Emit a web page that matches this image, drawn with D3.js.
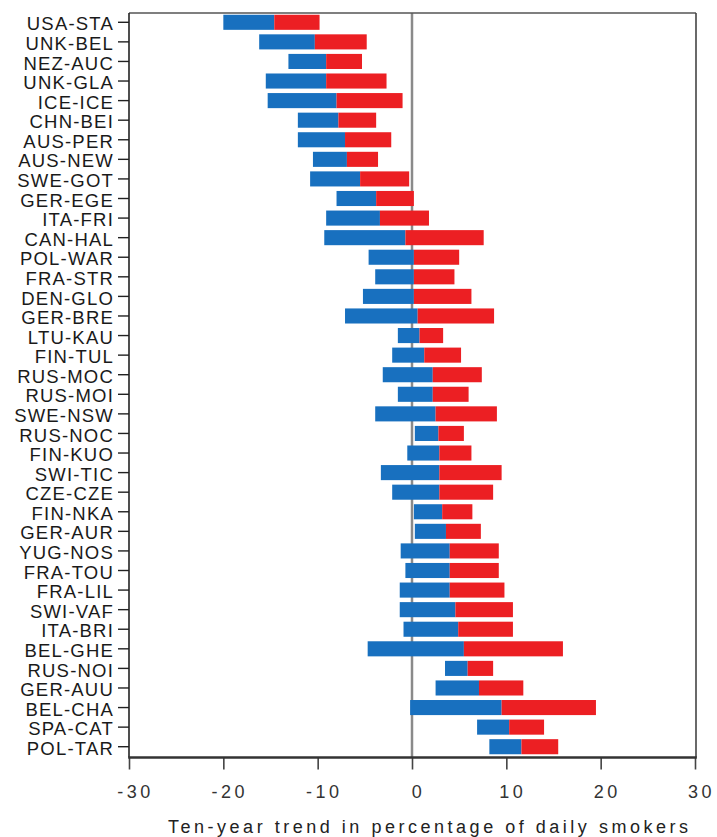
<!DOCTYPE html>
<html>
<head>
<meta charset="utf-8">
<script src="https://cdn.jsdelivr.net/npm/d3@7"></script>
<style>
  html, body { margin: 0; padding: 0; background: #ffffff; }
  svg { display: block; font-family: "Liberation Sans", Arial, Helvetica, sans-serif; }
</style>
</head>
<body>
<svg id="chart" width="717" height="837"></svg>
<script>
// Study populations (top to bottom)
const sites = ["USA-STA","UNK-BEL","NEZ-AUC","UNK-GLA","ICE-ICE","CHN-BEI","AUS-PER","AUS-NEW",
  "SWE-GOT","GER-EGE","ITA-FRI","CAN-HAL","POL-WAR","FRA-STR","DEN-GLO","GER-BRE","LTU-KAU",
  "FIN-TUL","RUS-MOC","RUS-MOI","SWE-NSW","RUS-NOC","FIN-KUO","SWI-TIC","CZE-CZE","FIN-NKA",
  "GER-AUR","YUG-NOS","FRA-TOU","FRA-LIL","SWI-VAF","ITA-BRI","BEL-GHE","RUS-NOI","GER-AUU",
  "BEL-CHA","SPA-CAT","POL-TAR"];

// Lower confidence limit of the ten-year trend
const lower = [-20.0,-16.2,-13.1,-15.5,-15.3,-12.1,-12.1,-10.5,-10.8,-8.0,-9.1,-9.3,-4.6,-3.9,
  -5.2,-7.1,-1.5,-2.1,-3.1,-1.5,-3.9,0.3,-0.5,-3.3,-2.1,0.2,0.3,-1.2,-0.7,-1.3,-1.3,-0.9,-4.7,
  3.5,2.5,-0.2,6.9,8.2];

// Estimated ten-year trend
const trend = [-14.6,-10.3,-9.1,-9.1,-8.0,-7.8,-7.1,-6.9,-5.5,-3.8,-3.4,-0.7,0.2,0.2,0.2,0.6,
  0.8,1.3,2.2,2.2,2.5,2.8,2.9,2.9,2.9,3.2,3.6,4.0,4.0,4.0,4.6,4.9,5.5,5.9,7.1,9.5,10.3,11.6];

// Upper confidence limit of the ten-year trend
const upper = [-9.8,-4.8,-5.3,-2.7,-1.0,-3.8,-2.2,-3.6,-0.3,0.2,1.8,7.6,5.0,4.5,6.3,8.7,3.3,
  5.2,7.4,6.0,9.0,5.5,6.3,9.5,8.6,6.4,7.3,9.2,9.2,9.8,10.7,10.7,16.0,8.6,11.8,19.5,14.0,15.5];

const xTicks = [-30, -20, -10, 0, 10, 20, 30];
const xTickLabels = ["-30", "-20", "-10", "0", "10", "20", "30"];
const xTitle = "Ten-year trend in percentage of daily smokers";

const BLUE = "#1870bf";
const RED = "#ec1f23";

const rows = sites.map((s, i) => ({ site: s, lo: lower[i], est: trend[i], hi: upper[i] }));

const svg = d3.select("#chart");
const plot = { left: 129, right: 696, top: 13, bottom: 757.5 };

const x = d3.scaleLinear().domain([-30, 30]).range([129, 695]);
const y = d3.scaleBand().domain(sites)
  .range([12.5, 756.5]).paddingInner(0.23).paddingOuter(0.115);

// zero reference line
svg.append("line")
  .attr("x1", x(0)).attr("x2", x(0))
  .attr("y1", plot.top).attr("y2", plot.bottom)
  .attr("stroke", "#8a8a8a").attr("stroke-width", 2.5);

// lower limit -> estimate
svg.append("g").selectAll("rect").data(rows).join("rect")
  .attr("x", d => x(Math.min(d.lo, d.est)))
  .attr("width", d => Math.abs(x(d.est) - x(d.lo)))
  .attr("y", d => y(d.site))
  .attr("height", y.bandwidth())
  .attr("fill", BLUE);

// estimate -> upper limit
svg.append("g").selectAll("rect").data(rows).join("rect")
  .attr("x", d => x(Math.min(d.est, d.hi)))
  .attr("width", d => Math.abs(x(d.hi) - x(d.est)))
  .attr("y", d => y(d.site))
  .attr("height", y.bandwidth())
  .attr("fill", RED);

// frame
svg.append("line").attr("x1", plot.left).attr("x2", plot.right)
  .attr("y1", plot.top).attr("y2", plot.top)
  .attr("stroke", "#555").attr("stroke-width", 1.6);
svg.append("line").attr("x1", plot.right).attr("x2", plot.right)
  .attr("y1", plot.top).attr("y2", plot.bottom)
  .attr("stroke", "#444").attr("stroke-width", 1.6);
svg.append("line").attr("x1", plot.left).attr("x2", plot.left)
  .attr("y1", plot.top).attr("y2", plot.bottom)
  .attr("stroke", "#222").attr("stroke-width", 1.6);

// y axis
const yAxis = svg.append("g")
  .attr("transform", `translate(${plot.left},0)`)
  .call(d3.axisLeft(y).tickSize(11).tickPadding(4));
yAxis.select(".domain").remove();
yAxis.selectAll(".tick line").attr("stroke", "#222").attr("stroke-width", 1.4);
yAxis.selectAll(".tick text")
  .attr("fill", "#1a1a1a")
  .attr("dy", "0.44em")
  .style("font-size", "18.5px")
  .style("letter-spacing", "1.2px");

// x axis
const xAxis = svg.append("g")
  .attr("transform", `translate(0,${plot.bottom})`)
  .call(d3.axisBottom(x).tickValues(xTicks).tickSize(12)
    .tickFormat((d, i) => xTickLabels[i]));
xAxis.select(".domain").remove();
xAxis.selectAll(".tick line").attr("stroke", "#444").attr("stroke-width", 1.6);
xAxis.selectAll(".tick text")
  .attr("fill", "#333")
  .attr("y", 40.5).attr("dy", 0).attr("dx", 6)
  .style("font-size", "18px")
  .style("letter-spacing", "3.5px");

svg.append("line").attr("x1", plot.left - 0.8).attr("x2", plot.right + 0.8)
  .attr("y1", plot.bottom).attr("y2", plot.bottom)
  .attr("stroke", "#333").attr("stroke-width", 2.6);

// axis title
svg.append("text")
  .attr("x", 428).attr("y", 833)
  .attr("text-anchor", "middle")
  .attr("textLength", 520)
  .attr("lengthAdjust", "spacing")
  .attr("fill", "#222")
  .style("font-size", "18px")
  .text(xTitle);
</script>
</body>
</html>
